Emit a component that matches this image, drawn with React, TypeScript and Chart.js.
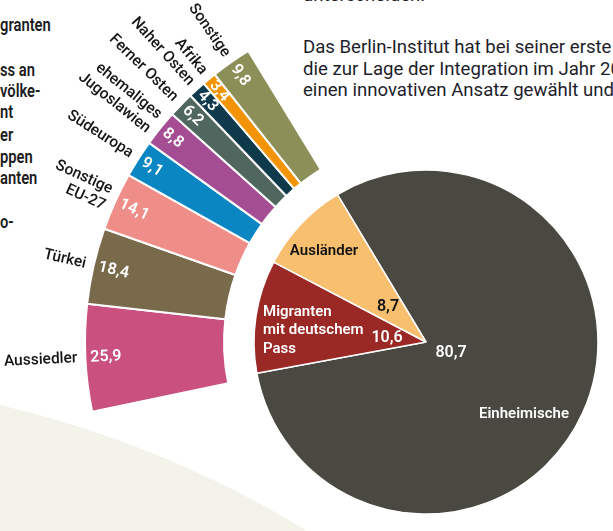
import React, { useEffect, useRef } from "react";
import { Chart, registerables } from "chart.js";

Chart.register(...registerables);

// ---- Data ----
const ringLabels = [
  "Aussiedler",
  "Türkei",
  "Sonstige EU-27",
  "Südeuropa",
  "ehemaliges Jugoslawien",
  "Ferner Osten",
  "Naher Osten",
  "Afrika",
  "Sonstige",
];
const ringLabelLines = [
  ["Aussiedler"],
  ["Türkei"],
  ["Sonstige", "EU-27"],
  ["Südeuropa"],
  ["ehemaliges", "Jugoslawien"],
  ["Ferner Osten"],
  ["Naher Osten"],
  ["Afrika"],
  ["Sonstige"],
];
const ringValues = [25.9, 18.4, 14.1, 9.1, 8.8, 6.2, 4.3, 3.4, 9.8];
const ringColors = [
  "#c9507f",
  "#7a6a4c",
  "#ef8e88",
  "#0a87c2",
  "#a44d93",
  "#4f675f",
  "#0e3a4b",
  "#f39406",
  "#8c8f58",
];

const pieLabels = ["Einheimische", "Migranten mit deutschem Pass", "Ausländer"];
const pieLabelLines = [["Einheimische"], ["Migranten", "mit deutschem", "Pass"], ["Ausländer"]];
const pieValues = [80.7, 10.6, 8.7];
const pieColors = ["#4a4941", "#9a2825", "#f8bf6e"];
const pieTextColors = ["#ffffff", "#ffffff", "#111111"];

const fmt = (v: number) => v.toFixed(1).replace(".", ",");

// label layout for pie (offsets from pie centre, px)
const pieNamePos = [
  { dx: 98, dy: 72, align: "center" },
  { dx: -163, dy: -30, align: "left" },
  { dx: -102, dy: -91, align: "center" },
];
const pieValuePos = [
  { dx: 25, dy: 11 },
  { dx: -39, dy: -4 },
  { dx: -38, dy: -35 },
];

const FONT = "Roboto, 'Noto Sans', sans-serif";

const labelPlugin = {
  id: "fanLabels",
  afterDatasetsDraw(chart: any) {
    const ctx = chart.ctx as CanvasRenderingContext2D;
    const ring = chart.getDatasetMeta(0).data;
    ring.forEach((arc: any, i: number) => {
      const { x, y, startAngle, endAngle, outerRadius } = arc.getProps(
        ["x", "y", "startAngle", "endAngle", "outerRadius"],
        true
      );
      const mid = (startAngle + endAngle) / 2;
      ctx.save();
      ctx.translate(x, y);
      ctx.rotate(mid + Math.PI);
      ctx.textBaseline = "middle";
      ctx.font = `500 15.5px ${FONT}`;
      ctx.fillStyle = "#161616";
      ctx.textAlign = "right";
      const lines = ringLabelLines[i];
      lines.forEach((t, j) => {
        ctx.fillText(t, -(outerRadius + 8), (j - (lines.length - 1) / 2) * 18);
      });
      ctx.textAlign = "left";
      ctx.fillStyle = "#ffffff";
      ctx.font = `600 16px ${FONT}`;
      ctx.fillText(fmt(ringValues[i]), -(outerRadius - 5), 0);
      ctx.restore();
    });

    const pie = chart.getDatasetMeta(2).data;
    pie.forEach((arc: any, i: number) => {
      const { x, y } = arc.getProps(["x", "y"], true);
      ctx.save();
      ctx.textBaseline = "middle";
      ctx.fillStyle = pieTextColors[i];
      ctx.font = `600 15px ${FONT}`;
      const np = pieNamePos[i];
      ctx.textAlign = np.align as CanvasTextAlign;
      pieLabelLines[i].forEach((t, j) => {
        ctx.fillText(t, x + np.dx, y + np.dy + j * 18.5);
      });
      ctx.font = `600 16px ${FONT}`;
      ctx.textAlign = "center";
      const vp = pieValuePos[i];
      ctx.fillText(fmt(pieValues[i]), x + vp.dx, y + vp.dy);
      ctx.restore();
    });
  },
};

const leftLines = [
  { t: "granten", y: 25 },
  { t: "ss an", y: 70 },
  { t: "völke-", y: 91 },
  { t: "nt", y: 112 },
  { t: "er", y: 135 },
  { t: "ppen", y: 157 },
  { t: "anten", y: 178 },
  { t: "o-", y: 222 },
];

const paraLines = [
  "Das Berlin-Institut hat bei seiner erste",
  "die zur Lage der Integration im Jahr 20",
  "einen innovativen Ansatz gewählt und",
];

export default function App() {
  const ref = useRef<HTMLCanvasElement | null>(null);

  useEffect(() => {
    if (!ref.current) return;
    const chart = new Chart(ref.current, {
      type: "pie",
      data: {
        labels: ringLabels,
        datasets: [
          {
            label: "Herkunft",
            data: ringValues,
            backgroundColor: ringColors,
            borderColor: "#ffffff",
            borderWidth: 2,
            rotation: 258.2,
            circumference: 70.4,
            weight: 139,
          } as any,
          {
            label: "spacer",
            data: [1],
            backgroundColor: "rgba(0,0,0,0)",
            borderWidth: 0,
            weight: 30,
          } as any,
          {
            label: "Bevölkerung",
            data: pieValues,
            backgroundColor: pieColors,
            borderColor: "#ffffff",
            borderWidth: 1.5,
            rotation: -31,
            weight: 172,
          } as any,
        ],
      },
      options: {
        responsive: false,
        animation: false,
        events: [],
        cutout: 0,
        layout: { padding: { left: 84, right: 84, top: 0, bottom: 0 } },
        plugins: {
          legend: { display: false },
          tooltip: { enabled: false },
        },
      } as any,
      plugins: [labelPlugin],
    });
    return () => chart.destroy();
  }, []);

  return (
    <div
      style={{
        position: "fixed",
        left: 0,
        top: 0,
        width: 613,
        height: 531,
        overflow: "hidden",
        background: "#ffffff",
      }}
    >
      <div
        style={{
          position: "absolute",
          left: -1272,
          top: 378,
          width: 2074,
          height: 2074,
          borderRadius: "50%",
          background: "#f3f3ea",
        }}
      />
      {leftLines.map((l, i) => (
        <div
          key={i}
          style={{
            position: "absolute",
            left: 0,
            top: l.y - 10,
            lineHeight: "20px",
            fontFamily: FONT,
            fontWeight: 600,
            fontSize: 18,
            color: "#1c1c1c",
            whiteSpace: "nowrap",
            transform: "scaleX(0.82)",
            transformOrigin: "left center",
          }}
        >
          {l.t}
        </div>
      ))}
      <div
        style={{
          position: "absolute",
          left: 303,
          top: -15,
          lineHeight: "21.7px",
          fontFamily: FONT,
          fontSize: 18.6,
          color: "#1e1e2a",
          whiteSpace: "nowrap",
        }}
      >
        unterscheiden.
      </div>
      <div
        style={{
          position: "absolute",
          left: 303,
          top: 37,
          lineHeight: "21.7px",
          fontFamily: FONT,
          fontSize: 18.6,
          color: "#1e1e2a",
          whiteSpace: "nowrap",
        }}
      >
        {paraLines.map((p, i) => (
          <div key={i}>{p}</div>
        ))}
      </div>
      <canvas
        ref={ref}
        width={852}
        height={684}
        style={{ position: "absolute", left: 0, top: 0 }}
      />
    </div>
  );
}
